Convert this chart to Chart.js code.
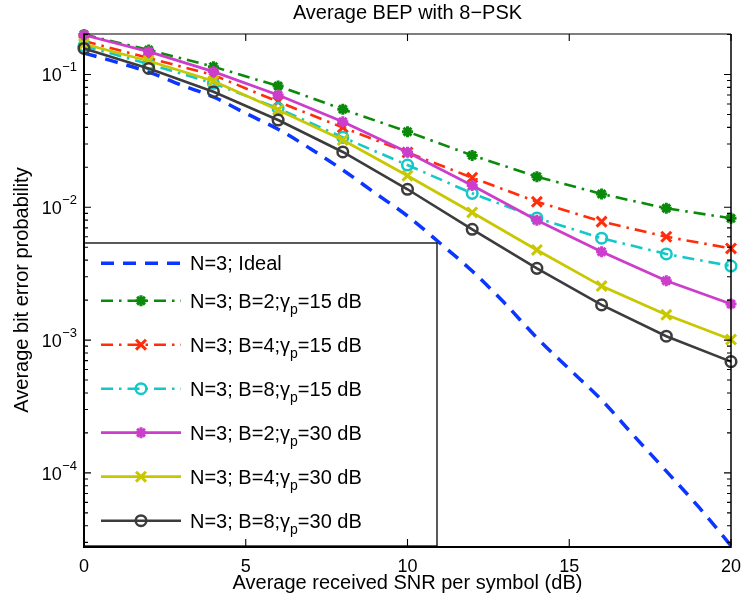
<!DOCTYPE html>
<html>
<head>
<meta charset="utf-8">
<script src="https://cdn.jsdelivr.net/npm/chart.js@4/dist/chart.umd.min.js"></script>
<style>
html,body{margin:0;padding:0;background:#fff;}
#wrap{width:741px;height:603px;}
</style>
</head>
<body>
<div id="wrap"><canvas id="c" width="741" height="603"></canvas></div>
<script>
// ---------------- data ----------------
const chartTitle = "Average BEP with 8\u2212PSK";
const xAxisTitle = "Average received SNR per symbol (dB)";
const yAxisTitle = "Average bit error probability";

const snrIdeal = [0,1,2,3,4,5,6,7,8,9,10,11,12,13,14,15,16,17,18,19,20];
const bepIdeal = [0.145,0.124,0.1044,0.0834,0.0677,0.0510,0.0387,0.0276,0.0191,0.0128,0.0086,
                  0.00538,0.00331,0.0019,0.00104,0.000606,0.000354,0.00019,0.000103,0.0000554,0.0000283];

const snr = [0,2,4,6,8,10,12,14,16,18,20];
const bepB2g15 = [0.200,0.153,0.1145,0.0819,0.0547,0.0371,0.0246,0.0170,0.0126,0.00983,0.00826];
const bepB4g15 = [0.1788,0.133,0.0991,0.0624,0.0399,0.0259,0.0167,0.0110,0.0078,0.0060,0.0049];
const bepB8g15 = [0.164,0.120,0.0859,0.0556,0.0336,0.0208,0.01274,0.00831,0.00585,0.00445,0.00361];
const bepB2g30 = [0.1983,0.1485,0.1050,0.0701,0.0441,0.02596,0.01459,0.00798,0.00463,0.0028,0.00187];
const bepB4g30 = [0.1697,0.1264,0.0893,0.0541,0.0321,0.0173,0.00914,0.00477,0.00255,0.00155,0.00101];
const bepB8g30 = [0.157,0.111,0.0742,0.0454,0.0261,0.01367,0.00683,0.00347,0.00184,0.00107,0.000688];

const seriesLabels = [
  "N=3; Ideal",
  "N=3; B=2;\u03b3_p=15 dB",
  "N=3; B=4;\u03b3_p=15 dB",
  "N=3; B=8;\u03b3_p=15 dB",
  "N=3; B=2;\u03b3_p=30 dB",
  "N=3; B=4;\u03b3_p=30 dB",
  "N=3; B=8;\u03b3_p=30 dB"
];

const xTickValues = [0,5,10,15,20];
const yTickExponents = [-4,-3,-2,-1];
const xMin = 0, xMax = 20;
const yMin = 2.815e-5, yMax = 0.2018;

// ---------------- styles ----------------
const colBlue = '#0a36ff', colGreen = '#0a8a0a', colRed = '#ff2d0a', colCyan = '#14c8c8',
      colMag = '#cc3dcc', colYel = '#c9c700', colBlk = '#3c3c3c';
const dashDot = [12,6,2.5,6];

function pts(xs, ys){ return xs.map((x,i)=>({x:x, y:ys[i]})); }

const datasets = [
  {label:seriesLabels[0], data:pts(snrIdeal,bepIdeal), borderColor:colBlue, borderWidth:3.5, borderDash:[13,9],
   pointRadius:0, pointStyle:false, cubicInterpolationMode:'monotone', order:7},
  {label:seriesLabels[1], data:pts(snr,bepB2g15), borderColor:colGreen, borderWidth:2.6, borderDash:dashDot,
   pointStyle:'star', pointRadius:5.5, pointBorderWidth:3, pointBorderColor:colGreen, pointBackgroundColor:colGreen, order:6},
  {label:seriesLabels[2], data:pts(snr,bepB4g15), borderColor:colRed, borderWidth:2.6, borderDash:dashDot,
   pointStyle:'crossRot', pointRadius:7, pointBorderWidth:3, pointBorderColor:colRed, pointBackgroundColor:colRed, order:5},
  {label:seriesLabels[3], data:pts(snr,bepB8g15), borderColor:colCyan, borderWidth:2.6, borderDash:dashDot,
   pointStyle:'circle', pointRadius:5.3, pointBorderWidth:2.5, pointBorderColor:colCyan, pointBackgroundColor:'rgba(0,0,0,0)', order:4},
  {label:seriesLabels[4], data:pts(snr,bepB2g30), borderColor:colMag, borderWidth:2.8, borderDash:[],
   pointStyle:'star', pointRadius:5.5, pointBorderWidth:3, pointBorderColor:colMag, pointBackgroundColor:colMag, order:3},
  {label:seriesLabels[5], data:pts(snr,bepB4g30), borderColor:colYel, borderWidth:2.8, borderDash:[],
   pointStyle:'crossRot', pointRadius:7, pointBorderWidth:3, pointBorderColor:colYel, pointBackgroundColor:colYel, order:2},
  {label:seriesLabels[6], data:pts(snr,bepB8g30), borderColor:colBlk, borderWidth:2.6, borderDash:[],
   pointStyle:'circle', pointRadius:5.3, pointBorderWidth:2.5, pointBorderColor:colBlk, pointBackgroundColor:'rgba(0,0,0,0)', order:1}
];
datasets.forEach(d=>{ d.tension = d.tension||0; d.clip = false; d.fill = false; d.borderCapStyle='butt'; });

// ---------------- helpers ----------------
function drawMarker(ctx, style, r, x, y, bw, color){
  if(!style) return;
  ctx.save();
  ctx.setLineDash([]);
  ctx.lineWidth = bw; ctx.strokeStyle = color;
  ctx.beginPath();
  if(style==='circle'){
    ctx.arc(x,y,r,0,Math.PI*2);
  } else if(style==='crossRot'){
    const d=r*Math.SQRT1_2;
    ctx.moveTo(x-d,y-d); ctx.lineTo(x+d,y+d); ctx.moveTo(x+d,y-d); ctx.lineTo(x-d,y+d);
  } else if(style==='star'){
    const d=r*Math.SQRT1_2;
    ctx.moveTo(x-r,y); ctx.lineTo(x+r,y); ctx.moveTo(x,y-r); ctx.lineTo(x,y+r);
    ctx.moveTo(x-d,y-d); ctx.lineTo(x+d,y+d); ctx.moveTo(x+d,y-d); ctx.lineTo(x-d,y+d);
  }
  ctx.stroke();
  ctx.restore();
}

function drawSubText(ctx, text, x, y, size, subSize){
  // '_c' renders c as subscript
  let cx = x;
  for(let i=0;i<text.length;i++){
    const ch = text[i];
    if(ch==='_' && i+1<text.length){
      const s = text[i+1];
      ctx.font = subSize+'px "Liberation Sans", Arial, sans-serif';
      ctx.fillText(s, cx, y+6);
      cx += ctx.measureText(s).width;
      i++;
    } else {
      ctx.font = size+'px "Liberation Sans", Arial, sans-serif';
      ctx.fillText(ch, cx, y);
      cx += ctx.measureText(ch).width;
    }
  }
}

const FONT = '"Liberation Sans", Arial, sans-serif';

const decor = {
  id:'decor',
  afterDatasetsDraw(chart){
    const ctx = chart.ctx, a = chart.chartArea, xs = chart.scales.x, ys = chart.scales.y;
    ctx.save();
    // ---- legend ----
    const L = {l:84, t:243, r:437, b:546};
    ctx.fillStyle = '#ffffff';
    ctx.fillRect(L.l, L.t, L.r-L.l, L.b-L.t);
    ctx.lineWidth = 1.3; ctx.strokeStyle = '#000'; ctx.setLineDash([]);
    ctx.strokeRect(L.l, L.t, L.r-L.l, L.b-L.t);
    const rowY = [263.3, 300.7, 344.7, 388.7, 432.7, 476.7, 520.7];
    chart.data.datasets.forEach((ds,i)=>{
      const y = rowY[i];
      ctx.save();
      ctx.strokeStyle = ds.borderColor; ctx.lineWidth = ds.borderWidth;
      ctx.setLineDash(ds.borderDash||[]); ctx.lineCap='butt';
      ctx.beginPath(); ctx.moveTo(101,y); ctx.lineTo(181,y); ctx.stroke();
      ctx.restore();
      drawMarker(ctx, ds.pointStyle, ds.pointRadius, 141, y, ds.pointBorderWidth, ds.borderColor);
      ctx.fillStyle = '#000'; ctx.textBaseline='alphabetic'; ctx.textAlign='left';
      drawSubText(ctx, ds.label, 190, y+7, 20, 14);
    });

    // ---- axes box ----
    ctx.strokeStyle = '#000'; ctx.setLineDash([]);
    ctx.lineWidth = 1.2;
    ctx.beginPath(); ctx.moveTo(a.left, a.top); ctx.lineTo(a.right, a.top); ctx.stroke();
    ctx.lineWidth = 1.5;
    ctx.beginPath(); ctx.moveTo(a.right, a.top); ctx.lineTo(a.right, a.bottom); ctx.stroke();
    ctx.lineWidth = 2;
    ctx.beginPath(); ctx.moveTo(a.left, a.top-0.6); ctx.lineTo(a.left, a.bottom+1); ctx.lineTo(a.right+0.75, a.bottom+1); ctx.stroke();

    // ---- ticks ----
    ctx.lineWidth = 1.1;
    xTickValues.forEach(v=>{
      const px = xs.getPixelForValue(v);
      ctx.beginPath();
      ctx.moveTo(px, a.bottom); ctx.lineTo(px, a.bottom-7);
      ctx.moveTo(px, a.top); ctx.lineTo(px, a.top+7);
      ctx.stroke();
    });
    for(let e=-5;e<=0;e++){
      for(let k=1;k<=9;k++){
        const v = k*Math.pow(10,e);
        if(v<yMin || v>yMax) continue;
        const py = ys.getPixelForValue(v);
        const len = (k===1)?7:4;
        ctx.beginPath();
        ctx.moveTo(a.left, py); ctx.lineTo(a.left+len, py);
        ctx.moveTo(a.right, py); ctx.lineTo(a.right-len, py);
        ctx.stroke();
      }
    }

    // ---- tick labels ----
    ctx.fillStyle = '#000';
    ctx.font = '18px '+FONT; ctx.textAlign='center'; ctx.textBaseline='alphabetic';
    xTickValues.forEach(v=>{
      ctx.fillText(String(v), xs.getPixelForValue(v), 571.5);
    });
    yTickExponents.forEach(e=>{
      const py = ys.getPixelForValue(Math.pow(10,e));
      const sup = '\u2212'+Math.abs(e);
      ctx.font = '13px '+FONT;
      const sw = ctx.measureText(sup).width;
      ctx.textAlign='left';
      ctx.fillText(sup, 77-sw, py-3.3);
      ctx.font = '18px '+FONT; ctx.textAlign='right';
      ctx.fillText('10', 77-sw-0.3, py+6.7);
    });

    // ---- titles ----
    ctx.font = '20px '+FONT; ctx.textAlign='center'; ctx.textBaseline='alphabetic';
    ctx.fillText(chartTitle, (a.left+a.right)/2, 18.5);
    ctx.fillText(xAxisTitle, (a.left+a.right)/2, 589);
    ctx.save();
    ctx.translate(28, (a.top+a.bottom)/2);
    ctx.rotate(-Math.PI/2);
    ctx.fillText(yAxisTitle, 0, 0);
    ctx.restore();

    ctx.restore();
  }
};

new Chart(document.getElementById('c'), {
  type:'line',
  data:{datasets:datasets},
  options:{
    responsive:false, animation:false, devicePixelRatio:1,
    layout:{padding:{top:34, right:9, left:0, bottom:0}},
    plugins:{legend:{display:false}, title:{display:false}, tooltip:{enabled:false}},
    scales:{
      x:{type:'linear', min:xMin, max:xMax, grid:{display:false}, border:{display:false},
         ticks:{display:false}, afterFit:(s)=>{s.height=57;}},
      y:{type:'logarithmic', min:yMin, max:yMax, grid:{display:false}, border:{display:false},
         ticks:{display:false}, afterFit:(s)=>{s.width=84;}}
    }
  },
  plugins:[decor]
});
</script>
</body>
</html>
